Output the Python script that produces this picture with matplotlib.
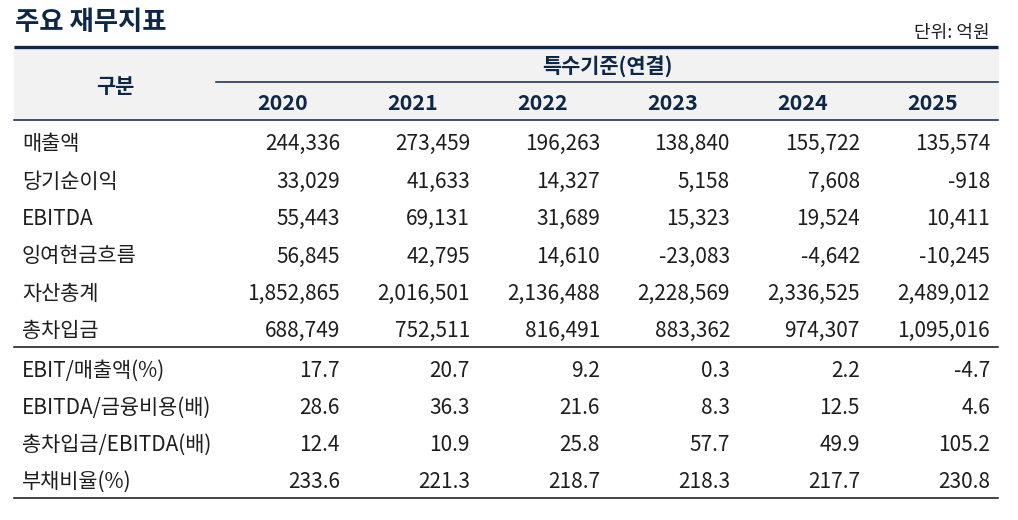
import matplotlib
matplotlib.use('Agg')
import matplotlib.pyplot as plt
from matplotlib.patches import Rectangle

plt.rcParams['font.family'] = ['Noto Sans CJK KR', 'DejaVu Sans']

title = '주요 재무지표'
unit_note = '단위: 억원'
group_label = '특수기준(연결)'
row_header = '구분'
years = ['2020', '2021', '2022', '2023', '2024', '2025']

labels_top = ['매출액', '당기순이익', 'EBITDA', '잉여현금흐름', '자산총계', '총차입금']
values_top = [
    ['244,336', '273,459', '196,263', '138,840', '155,722', '135,574'],
    ['33,029', '41,633', '14,327', '5,158', '7,608', '-918'],
    ['55,443', '69,131', '31,689', '15,323', '19,524', '10,411'],
    ['56,845', '42,795', '14,610', '-23,083', '-4,642', '-10,245'],
    ['1,852,865', '2,016,501', '2,136,488', '2,228,569', '2,336,525', '2,489,012'],
    ['688,749', '752,511', '816,491', '883,362', '974,307', '1,095,016'],
]
labels_bottom = ['EBIT/매출액(%)', 'EBITDA/금융비용(배)', '총차입금/EBITDA(배)', '부채비율(%)']
values_bottom = [
    ['17.7', '20.7', '9.2', '0.3', '2.2', '-4.7'],
    ['28.6', '36.3', '21.6', '8.3', '12.5', '4.6'],
    ['12.4', '10.9', '25.8', '57.7', '49.9', '105.2'],
    ['233.6', '221.3', '218.7', '218.3', '217.7', '230.8'],
]

navy = '#0f2747'
txt = '#1e1e1e'

W, H = 1018, 520
fig = plt.figure(figsize=(W / 100, H / 100), dpi=100)
ax = fig.add_axes([0, 0, 1, 1])
ax.set_xlim(0, W)
ax.set_ylim(H, 0)
ax.axis('off')

left, right = 14, 998
col_right = [340, 470, 600, 730, 860, 990]
col_center = [283, 413, 543, 673, 803, 933]

# title + unit
ax.text(15, 30, title, fontsize=19, fontweight='bold', color=navy, va='baseline', ha='left')
ax.text(990, 38, unit_note, fontsize=13, fontweight='light', color=txt, va='baseline', ha='right')

# header block
ax.add_patch(Rectangle((left, 47), right - left, 73, color='#f2f2f2', zorder=0))
ax.plot([left, right], [46.5, 46.5], color=navy, lw=2.4, solid_capstyle='butt')
ax.plot([216, right], [82, 82], color=navy, lw=1.1)
ax.plot([left, right], [120, 120], color=navy, lw=1.1)
ax.text(115, 93, row_header, fontsize=15, fontweight='bold', color=navy, ha='center', va='baseline')
ax.text(607, 73, group_label, fontsize=15, fontweight='bold', color=navy, ha='center', va='baseline')
for x, y in zip(col_center, years):
    ax.text(x, 110, y, fontsize=15.5, fontweight='bold', color=navy, ha='center', va='baseline')

# body rows (baselines)
y_top = [150, 187.5, 225, 262.5, 300, 337]
y_bot = [377, 414, 451, 488]
for ys, labs, vals in [(y_top, labels_top, values_top), (y_bot, labels_bottom, values_bottom)]:
    for y, lab, row in zip(ys, labs, vals):
        ax.text(22, y, lab, fontsize=15, fontweight='light', color=txt, ha='left', va='baseline')
        for x, v in zip(col_right, row):
            ax.text(x, y, v, fontsize=15, fontweight='light', color=txt, ha='right', va='baseline')

ax.plot([left, right], [347, 347], color='#111111', lw=1.1)
ax.plot([left, right], [498, 498], color='#111111', lw=1.1)

fig.savefig('out.png', dpi=100)
